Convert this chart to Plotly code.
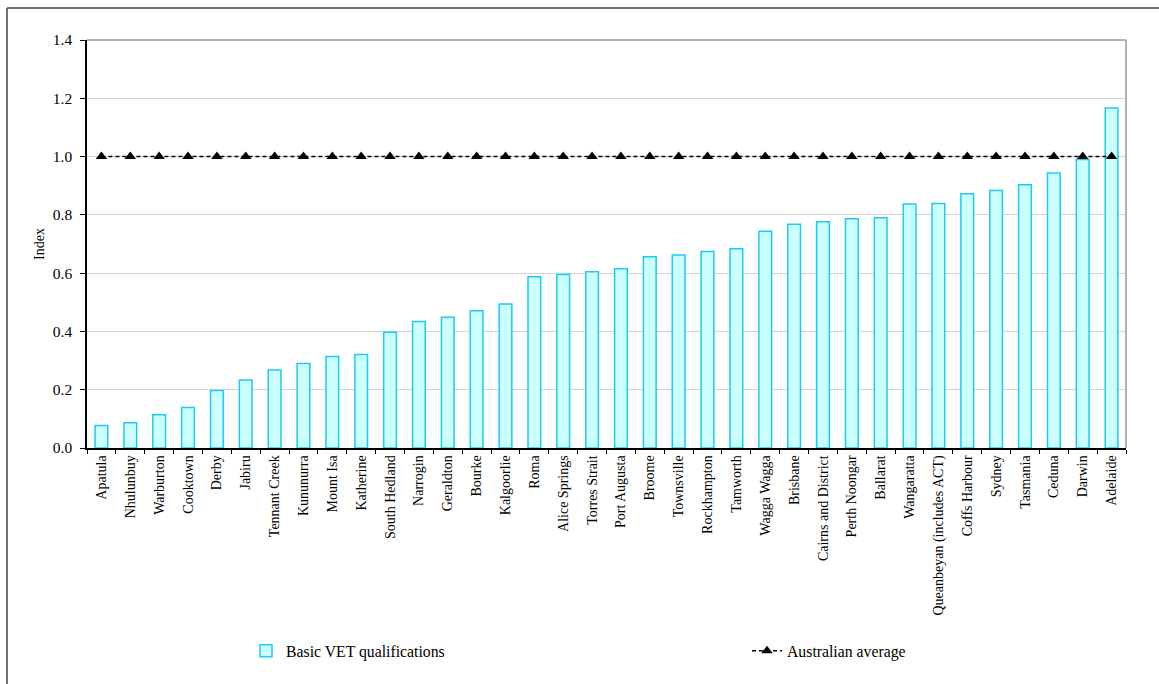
import plotly.graph_objects as go

regions = ["Apatula", "Nhulunbuy", "Warburton", "Cooktown", "Derby", "Jabiru",
           "Tennant Creek", "Kununurra", "Mount Isa", "Katherine", "South Hedland",
           "Narrogin", "Geraldton", "Bourke", "Kalgoorlie", "Roma", "Alice Springs",
           "Torres Strait", "Port Augusta", "Broome", "Townsville", "Rockhampton",
           "Tamworth", "Wagga Wagga", "Brisbane", "Cairns and District", "Perth Noongar",
           "Ballarat", "Wangaratta", "Queanbeyan (includes ACT)", "Coffs Harbour",
           "Sydney", "Tasmania", "Ceduna", "Darwin", "Adelaide"]
basic_vet = [0.077, 0.087, 0.114, 0.139, 0.197, 0.233, 0.268, 0.290, 0.314, 0.321,
             0.397, 0.434, 0.449, 0.471, 0.494, 0.588, 0.595, 0.605, 0.615, 0.656,
             0.662, 0.674, 0.684, 0.744, 0.768, 0.776, 0.787, 0.790, 0.837, 0.839,
             0.872, 0.884, 0.903, 0.944, 0.990, 1.167]
aus_avg = [1.0] * len(regions)
y_ticks = [0.0, 0.2, 0.4, 0.6, 0.8, 1.0, 1.2, 1.4]

FONT = "Liberation Serif"
FS = 14
FS_Y = 15.5
FS_LEG = 15.75
W, H = 1159, 684
ML, MR, MT, MB = 87, 33, 40, 236
pw, ph = W - ML - MR, H - MT - MB

fig = go.Figure()
fig.add_trace(go.Bar(
    x=regions, y=basic_vet, name="Basic VET qualifications",
    marker=dict(color="#CCFFFF", line=dict(color="#1CCBF2", width=1.5)),
    width=0.44, legend="legend", showlegend=True,
))
fig.add_trace(go.Scatter(
    x=regions, y=aus_avg, name="Australian average", mode="lines+markers",
    line=dict(color="black", width=1.5, dash="4px,3px"),
    marker=dict(symbol="triangle-up", size=10, color="black"),
    legend="legend2", showlegend=True,
))

def px_x(p):
    return (p - ML) / pw

def px_y(p):
    return 1 - (p - MT) / ph

fig.update_layout(
    width=W, height=H,
    margin=dict(l=ML, r=MR, t=MT, b=MB),
    paper_bgcolor="white", plot_bgcolor="white",
    font=dict(family=FONT, size=FS, color="black"),
    showlegend=True,
    bargap=0.56,
    legend=dict(x=px_x(246), y=px_y(651), xanchor="left", yanchor="middle",
                orientation="h", font=dict(family=FONT, size=FS_LEG),
                bgcolor="rgba(0,0,0,0)"),
    legend2=dict(x=px_x(747), y=px_y(651), xanchor="left", yanchor="middle",
                 orientation="h", font=dict(family=FONT, size=FS_LEG),
                 bgcolor="rgba(0,0,0,0)"),
    xaxis=dict(
        type="category", tickangle=-90, tickson="boundaries",
        ticks="outside", ticklen=4, tickcolor="black",
        showline=True, linecolor="black", linewidth=1.5,
        showgrid=False, tickfont=dict(family=FONT, size=FS),
        range=[-0.5, len(regions) - 0.5],
    ),
    yaxis=dict(
        range=[0, 1.4], tickvals=y_ticks, tickformat=".1f",
        ticks="outside", ticklen=5, tickcolor="black",
        showline=True, linecolor="black", linewidth=1.5,
        showgrid=True, gridcolor="#D4D4D4", gridwidth=1,
        zeroline=False, tickfont=dict(family=FONT, size=FS_Y),
        ticklabelstandoff=5,
        title=dict(text="Index", font=dict(family=FONT, size=FS), standoff=5),
    ),
    shapes=[
        dict(type="line", xref="paper", yref="paper", x0=0, x1=1, y0=1, y1=1,
             line=dict(color="#999999", width=1.5)),
        dict(type="line", xref="paper", yref="paper", x0=1, x1=1, y0=0, y1=1,
             line=dict(color="#999999", width=1.5)),
        dict(type="line", xref="paper", yref="paper", x0=px_x(7), x1=px_x(1170),
             y0=px_y(8), y1=px_y(8), line=dict(color="#444444", width=1.5)),
        dict(type="line", xref="paper", yref="paper", x0=px_x(7), x1=px_x(7),
             y0=px_y(8), y1=px_y(700), line=dict(color="#444444", width=1.5)),
    ],
)

fig.write_html("out.html")
